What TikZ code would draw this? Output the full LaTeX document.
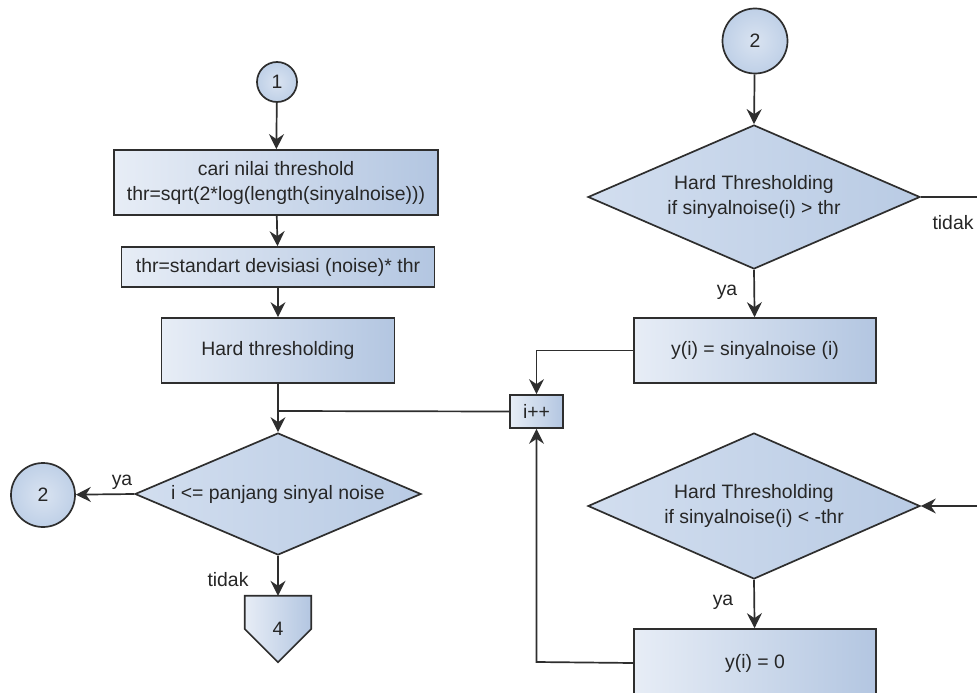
\documentclass[tikz,border=0pt]{standalone}
\usepackage{fontspec}
\setmainfont{Liberation Sans}
\usetikzlibrary{shapes.geometric,arrows.meta}

\definecolor{edge}{HTML}{2E2E2E}
\definecolor{txt}{HTML}{262626}
\definecolor{boxL}{HTML}{E7EDF6}
\definecolor{boxR}{HTML}{B3C6E1}
\definecolor{decL}{HTML}{D2DEEF}
\definecolor{decR}{HTML}{B9CBE4}
\definecolor{conIn}{HTML}{D9E3F1}
\definecolor{conOut}{HTML}{BFD0E7}

\tikzset{
  base/.style={draw=edge, line width=1.7pt, text=txt,
    font=\fontsize{19.4}{25}\selectfont, inner sep=0pt, align=center},
  procbox/.style={base, rectangle, left color=boxL, right color=boxR},
  decision/.style={base, diamond, left color=decL, right color=decR},
  connector/.style={base, circle, inner color=conIn, outer color=conOut},
  lbl/.style={text=txt, font=\fontsize{19.4}{25}\selectfont, inner sep=0pt},
  line/.style={draw=edge, line width=1.7pt},
  flow/.style={line, -{Stealth[length=15pt,width=15pt,inset=5pt]}},
}

\begin{document}
\begin{tikzpicture}[x=1pt,y=-1pt]
  \useasboundingbox (0,0) rectangle (977,693);
  \fill[white] (0,0) rectangle (977,693);
  \begin{scope}
  \clip (0,0) rectangle (977,693);

  % left column
  \node[connector, minimum size=40pt] (c1) at (277,82) {1};
  \node[procbox, minimum width=324pt, minimum height=65pt] (b1) at (276,182.5)
    {cari nilai threshold\\thr=sqrt(2*log(length(sinyalnoise)))};
  \node[procbox, minimum width=313pt, minimum height=40pt] (b2) at (278,267)
    {thr=standart devisiasi (noise)* thr};
  \node[procbox, minimum width=233pt, minimum height=65pt] (b3) at (278,350.5)
    {Hard thresholding};
  \coordinate (merge) at (278,411);
  \node[decision, aspect=2.344, minimum width=286pt, minimum height=122pt] (d1) at (278,494)
    {i <= panjang sinyal noise};
  \node[connector, minimum size=64pt] (c2l) at (43,495) {2};

  % off-page connector
  \node[minimum width=66pt, minimum height=66pt, inner sep=0pt] (off4) at (278,629) {};
  \path[line, left color=boxL, right color=boxR]
    (off4.north west) -- (off4.north east) -- (off4.east) -- (off4.south)
    -- (off4.west) -- cycle;
  \node[lbl] at (off4.center) {4};

  % right column
  \node[connector, minimum size=65pt] (c2r) at (755,41) {2};
  \node[decision, aspect=2.306, minimum width=332pt, minimum height=144pt] (d2) at (754,197)
    {Hard Thresholding\\if sinyalnoise(i) > thr};
  \node[procbox, minimum width=242pt, minimum height=65pt] (b4) at (755,350.5)
    {y(i) = sinyalnoise (i)};
  \node[procbox, minimum width=53pt, minimum height=33pt] (ipp) at (536.5,411.5)
    {i++};
  \node[decision, aspect=2.274, minimum width=332pt, minimum height=146pt] (d3) at (754,506)
    {Hard Thresholding\\if sinyalnoise(i) < -thr};
  \node[procbox, minimum width=242pt, minimum height=68pt] (b5) at (755,663)
    {y(i) = 0};
  \coordinate (rtop) at (992,197);
  \coordinate (rbot) at (992,506);
  \coordinate (kin) at (536.5,350.5);
  \coordinate (kout) at (536.5,662);

  % labels
  \node[lbl] (lya1) at (122,482) {ya};
  \node[lbl] (ltd1) at (228,580) {tidak};
  \node[lbl] (lya2) at (727,292) {ya};
  \node[lbl] (ltd2) at (953,223) {tidak};
  \node[lbl] (lya3) at (723,602) {ya};

  % connectors
  \draw[flow] (c1) -- (b1);
  \draw[flow] (b1) -- (b2);
  \draw[flow] (b2) -- (b3);
  \draw[flow] (b3) -- (d1.north);
  \draw[line] (ipp.west) -- (merge);
  \draw[flow] (d1.west) -- (c2l);
  \draw[flow] (d1.south) -- (off4.north);
  \draw[flow] (c2r) -- (d2.north);
  \draw[flow] (d2.south) -- (b4);
  \draw[flow] (d2.east) -- (rtop) -- (rbot) -- (d3.east);
  \draw[flow] (b4.west) -- (kin) -- (ipp.north);
  \draw[flow] (d3.south) -- (b5);
  \draw[flow] (b5.west) -- (kout) -- (ipp.south);
  \end{scope}
\end{tikzpicture}
\end{document}
